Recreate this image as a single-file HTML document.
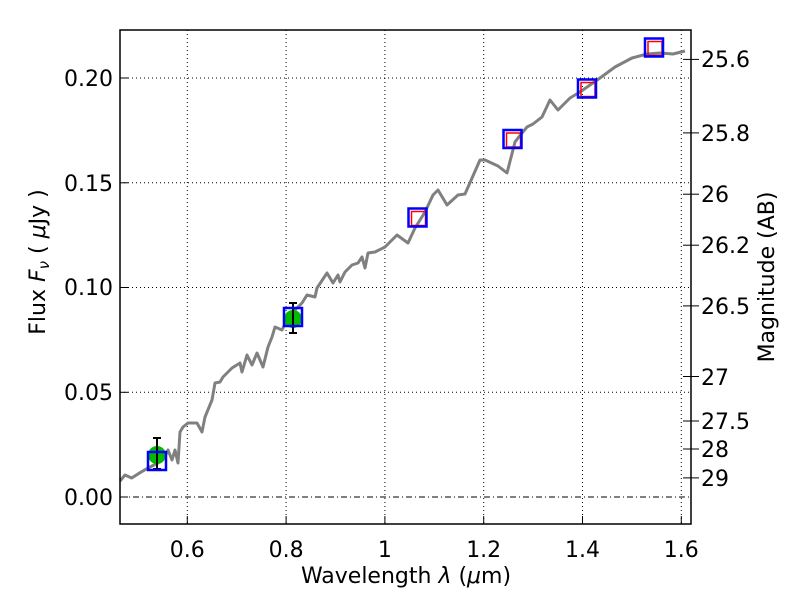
<!DOCTYPE html>
<html><head><meta charset="utf-8"><style>
html,body{margin:0;padding:0;background:#fff;}
svg text{font-family:"DejaVu Sans","Liberation Sans",sans-serif;fill:#000;}
</style></head><body>
<svg width="800" height="600" viewBox="0 0 800 600" xmlns="http://www.w3.org/2000/svg">
<rect width="800" height="600" fill="#fff"/>
<g stroke="#000" stroke-width="1" stroke-dasharray="1,3" fill="none">
<line x1="187.3" y1="30" x2="187.3" y2="524"/>
<line x1="286.1" y1="30" x2="286.1" y2="524"/>
<line x1="384.9" y1="30" x2="384.9" y2="524"/>
<line x1="483.7" y1="30" x2="483.7" y2="524"/>
<line x1="582.5" y1="30" x2="582.5" y2="524"/>
<line x1="681.3" y1="30" x2="681.3" y2="524"/>
<line x1="120" y1="392.3" x2="691" y2="392.3"/>
<line x1="120" y1="287.5" x2="691" y2="287.5"/>
<line x1="120" y1="182.8" x2="691" y2="182.8"/>
<line x1="120" y1="78" x2="691" y2="78"/>
</g>
<line x1="120" y1="497" x2="691" y2="497" stroke="#000" stroke-width="1" stroke-dasharray="6,3,1,3"/>
<polyline fill="none" stroke="#808080" stroke-width="3" stroke-linejoin="round" points="120,481 125,475 131.7,478 140,472.7 148,468 158,463 165,456 168,450 172,460 175,450 178,463 180,432 183,427 188,423 197,423 202,432 205,417 212,400 215,383 220,382 223,377 232,368 240,363 242,372 247,355 252,365 257,353 263,367 268,347 272,337 275,327 282,330 287,320 295,310 302,303 307,295 315,297 317,288 327,273 333,283 338,275 340,282 345,272 352,265 358,263 362,257 365,268 368,253 375,252 385,247 397,235 408,243 415,228 425,212 433,195 438,190 447,205 458,195 465,194 480,160 485,160 498,166 507,173 515,142 518,138 527,127 533,124 542,117 550,100 558,110 570,98 580,92 600,78 615,67 632,58 647,54 660,53 673,54 685,51"/>
<g fill="#00bb00">
<circle cx="157" cy="455" r="9"/>
<circle cx="293" cy="319" r="9"/>
</g>
<g stroke="#000" stroke-width="2" fill="none">
<line x1="157" y1="438" x2="157" y2="469"/><line x1="153" y1="438" x2="161" y2="438"/><line x1="153" y1="469" x2="161" y2="469"/>
<line x1="293" y1="303" x2="293" y2="333"/><line x1="289" y1="303" x2="297" y2="303"/><line x1="289" y1="333" x2="297" y2="333"/>
</g>
<g stroke="#f00" stroke-width="1.5" fill="none">
<rect x="411.5" y="211.5" width="14" height="14"/>
<rect x="506.5" y="133" width="14" height="14"/>
<rect x="581" y="82.5" width="14" height="14"/>
<rect x="648" y="41.5" width="14" height="14"/>
</g>
<g stroke="#00f" stroke-width="2.5" fill="none">
<rect x="148" y="452" width="18" height="18"/>
<rect x="284" y="308" width="18" height="18"/>
<rect x="408.5" y="208.5" width="18" height="18"/>
<rect x="503.5" y="130" width="18" height="18"/>
<rect x="578" y="79.5" width="18" height="18"/>
<rect x="645" y="38.5" width="18" height="18"/>
</g>
<rect x="120" y="30" width="571" height="494" fill="none" stroke="#000" stroke-width="1.5"/>
<g stroke="#000" stroke-width="1">
<line x1="187.3" y1="524" x2="187.3" y2="516"/><line x1="286.1" y1="524" x2="286.1" y2="516"/><line x1="384.9" y1="524" x2="384.9" y2="516"/><line x1="483.7" y1="524" x2="483.7" y2="516"/><line x1="582.5" y1="524" x2="582.5" y2="516"/><line x1="681.3" y1="524" x2="681.3" y2="516"/>
<line x1="120" y1="497" x2="128" y2="497"/><line x1="120" y1="392.3" x2="128" y2="392.3"/><line x1="120" y1="287.5" x2="128" y2="287.5"/><line x1="120" y1="182.8" x2="128" y2="182.8"/><line x1="120" y1="78" x2="128" y2="78"/>
<line x1="683" y1="59.4" x2="699" y2="59.4"/><line x1="683" y1="132.9" x2="699" y2="132.9"/><line x1="683" y1="194.2" x2="699" y2="194.2"/><line x1="683" y1="245.2" x2="699" y2="245.2"/><line x1="683" y1="305.9" x2="699" y2="305.9"/><line x1="683" y1="376.5" x2="699" y2="376.5"/><line x1="683" y1="421" x2="699" y2="421"/><line x1="683" y1="449" x2="699" y2="449"/><line x1="683" y1="477.9" x2="699" y2="477.9"/>
</g>
<g font-size="22" text-anchor="middle">
<text x="187.3" y="557">0.6</text><text x="286.1" y="557">0.8</text><text x="384.9" y="557">1</text><text x="483.7" y="557">1.2</text><text x="582.5" y="557">1.4</text><text x="681.3" y="557">1.6</text>
</g>
<g font-size="22" text-anchor="end">
<text x="113" y="505">0.00</text><text x="113" y="400">0.05</text><text x="113" y="295">0.10</text><text x="113" y="191">0.15</text><text x="113" y="86">0.20</text>
</g>
<g font-size="22" text-anchor="start">
<text x="701" y="67">25.6</text><text x="701" y="141">25.8</text><text x="701" y="202">26</text><text x="701" y="253">26.2</text><text x="701" y="314">26.5</text><text x="701" y="385">27</text><text x="701" y="429">27.5</text><text x="701" y="457">28</text><text x="701" y="486">29</text>
</g>
<text x="406" y="583" font-size="22" text-anchor="middle">Wavelength  <tspan font-style="italic">λ</tspan> (<tspan font-style="italic">μ</tspan>m)</text>
<text transform="translate(45,262) rotate(-90)" font-size="22" text-anchor="middle">Flux  <tspan font-style="italic">F</tspan><tspan font-style="italic" font-size="15" dy="4">ν</tspan><tspan dy="-4">  (  </tspan><tspan font-style="italic">μ</tspan>Jy )</text>
<text transform="translate(774,277) rotate(-90)" font-size="22" text-anchor="middle">Magnitude (AB)</text>
</svg>
</body></html>
